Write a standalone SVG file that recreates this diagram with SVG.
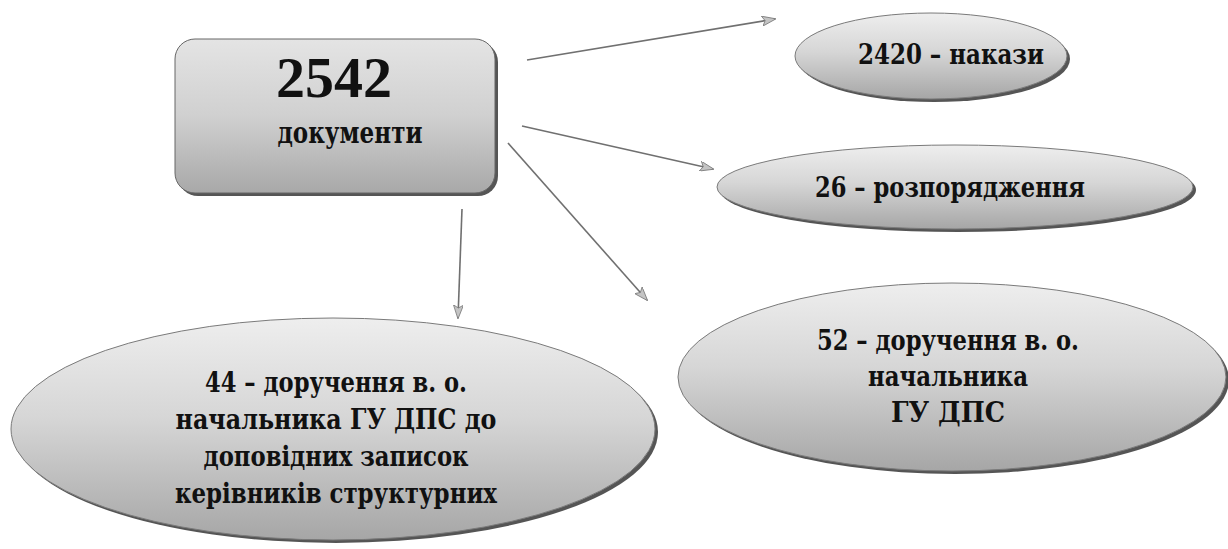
<svg xmlns="http://www.w3.org/2000/svg" width="1228" height="549" viewBox="0 0 1228 549">
<defs>
<linearGradient id="gBox" x1="0" y1="0" x2="0" y2="1">
<stop offset="0" stop-color="#e4e4e4"/>
<stop offset="0.5" stop-color="#d0d0d0"/>
<stop offset="1" stop-color="#a8a8a8"/>
</linearGradient>
<linearGradient id="gEl" x1="0" y1="0" x2="0" y2="1">
<stop offset="0" stop-color="#eeeeee"/>
<stop offset="0.45" stop-color="#d6d6d6"/>
<stop offset="1" stop-color="#a6a6a6"/>
</linearGradient>
<marker id="ah" viewBox="0 0 14 10" refX="13" refY="5" markerWidth="14" markerHeight="10" markerUnits="userSpaceOnUse" orient="auto">
<path d="M0,0 L14,5 L0,10 L3,5 Z" fill="#c4c4c4" stroke="#777" stroke-width="0.8"/>
</marker>
</defs>
<style>
.shadow{fill:#555;}
.node{fill:url(#gEl);stroke:#7a7a7a;stroke-width:1;}
.box{fill:url(#gBox);stroke:#666;stroke-width:1;}
.t{font-family:"DejaVu Serif","Liberation Serif",serif;font-weight:bold;fill:#111;text-anchor:middle;font-size:27px;}
.big{font-family:"Liberation Serif","DejaVu Serif",serif;font-weight:bold;fill:#111;text-anchor:middle;font-size:58px;}
.doc{font-size:29px;}
.conn{stroke:#707070;stroke-width:1.6;fill:none;marker-end:url(#ah);}
</style>
<rect width="1228" height="549" fill="#ffffff"/>

<g id="connectors">
<line class="conn" x1="527" y1="60" x2="775" y2="19"/>
<line class="conn" x1="522" y1="126" x2="713" y2="169"/>
<line class="conn" x1="508" y1="143" x2="647" y2="300"/>
<line class="conn" x1="462" y1="209" x2="458" y2="318"/>
</g>

<g id="node-total">
<rect class="shadow" x="178" y="42" width="320" height="154" rx="20"/>
<rect class="box" x="175" y="39" width="320" height="154" rx="20"/>
<text class="big" x="334" y="97">2542</text>
<text class="t doc" x="350" y="143" textLength="145" lengthAdjust="spacingAndGlyphs">документи</text>
</g>

<g id="node-nakazy">
<ellipse class="shadow" cx="934" cy="59" rx="136" ry="43"/>
<ellipse class="node" cx="931" cy="56" rx="136" ry="43"/>
<text class="t" x="951" y="64" textLength="186" lengthAdjust="spacingAndGlyphs">2420 – накази</text>
</g>

<g id="node-rozp">
<ellipse class="shadow" cx="958" cy="190" rx="238" ry="42"/>
<ellipse class="node" cx="955" cy="187" rx="238" ry="42"/>
<text class="t" x="950" y="197" textLength="270" lengthAdjust="spacingAndGlyphs">26 – розпорядження</text>
</g>

<g id="node-52">
<ellipse class="shadow" cx="955" cy="380" rx="274" ry="94"/>
<ellipse class="node" cx="952" cy="377" rx="274" ry="94"/>
<text class="t" x="948" y="350" textLength="262" lengthAdjust="spacingAndGlyphs">52 – доручення в. о.</text>
<text class="t" x="948" y="386" textLength="160" lengthAdjust="spacingAndGlyphs">начальника</text>
<text class="t" x="948" y="422" textLength="114" lengthAdjust="spacingAndGlyphs">ГУ ДПС</text>
</g>

<g id="node-44">
<ellipse class="shadow" cx="336" cy="432" rx="322" ry="111"/>
<ellipse class="node" cx="333" cy="429" rx="322" ry="111"/>
<text class="t" x="336" y="392" textLength="262" lengthAdjust="spacingAndGlyphs">44 – доручення в. о.</text>
<text class="t" x="336" y="429" textLength="321" lengthAdjust="spacingAndGlyphs">начальника ГУ ДПС до</text>
<text class="t" x="336" y="466" textLength="265" lengthAdjust="spacingAndGlyphs">доповідних записок</text>
<text class="t" x="336" y="503" textLength="322" lengthAdjust="spacingAndGlyphs">керівників структурних</text>
</g>
</svg>
